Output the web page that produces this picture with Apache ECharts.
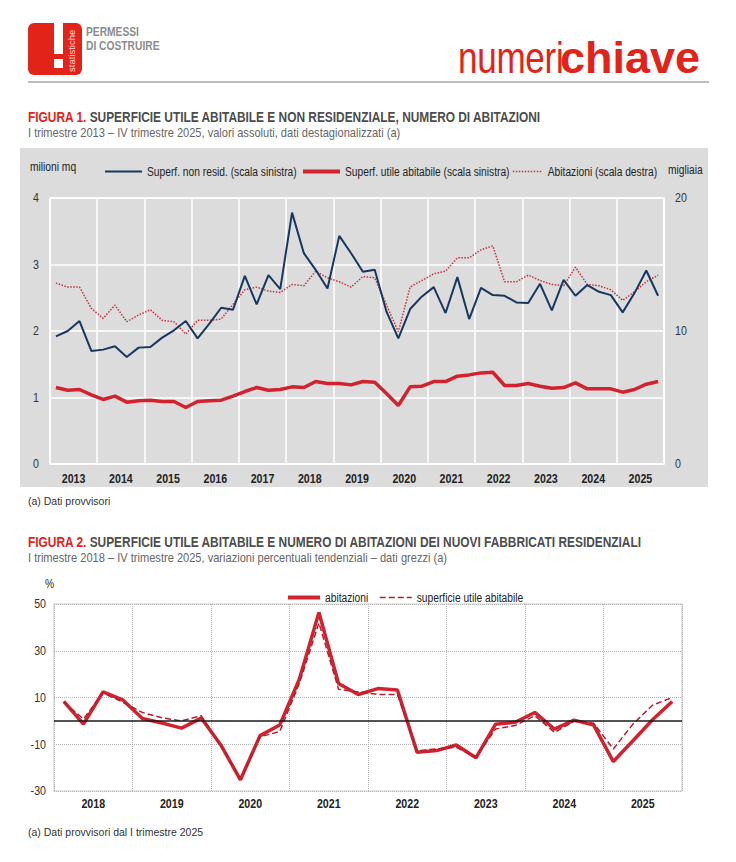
<!DOCTYPE html>
<html>
<head>
<meta charset="utf-8">
<script src="https://cdn.jsdelivr.net/npm/echarts@6/dist/echarts.min.js"></script>
<style>
  html,body{margin:0;padding:0;background:#fff;}
  body{width:736px;height:862px;position:relative;overflow:hidden;font-family:'Liberation Sans',Arial,sans-serif;}
  .abs{position:absolute;white-space:nowrap;}
  .nar{transform:scaleX(0.82);transform-origin:0 0;}
  .title{font-weight:bold;font-size:14.5px;color:#4d4d4d;line-height:16px;}
  .title span{color:#e2231a;}
  .sub{font-size:13.5px;color:#666;line-height:16px;}
  .note{font-size:10.5px;color:#333;line-height:12px;}
</style>
</head>
<body>
<!-- header -->
<div class="abs" style="left:28px;top:23px;width:54px;height:52px;background:#e2231a;border-radius:6px;overflow:hidden;">
  <div class="abs" style="left:26px;top:0px;width:9px;height:31px;background:#fff;"></div>
  <div class="abs" style="left:26px;top:36px;width:9px;height:9px;background:#fff;"></div>
  <div class="abs" style="left:38px;top:49px;transform-origin:0 0;transform:rotate(-90deg);font-size:9.5px;color:#fbdada;line-height:12px;">statistiche</div>
</div>
<div class="abs nar" style="left:86px;top:25px;font-weight:bold;font-size:12.5px;color:#8c8c8c;line-height:14px;">PERMESSI<br>DI COSTRUIRE</div>
<div class="abs" style="left:458px;top:33px;color:#e2231a;font-size:45px;line-height:50px;">
  <span style="display:inline-block;width:102px;"><span style="display:inline-block;transform:scaleX(0.78);transform-origin:0 0;font-weight:normal;letter-spacing:-0.4px;">numeri</span></span><span style="font-weight:bold;letter-spacing:0px;">chiave</span>
</div>
<div class="abs" style="left:28px;top:81px;width:681px;height:2px;background:#bdbdbd;"></div>

<div class="abs title nar" style="left:28px;top:109px;"><span>FIGURA 1.</span> SUPERFICIE UTILE ABITABILE E NON RESIDENZIALE, NUMERO DI ABITAZIONI</div>
<div class="abs sub nar" style="left:28px;top:125px;">I trimestre 2013 – IV trimestre 2025, valori assoluti, dati destagionalizzati (a)</div>
<div id="c1" class="abs" style="left:20px;top:148px;width:688px;height:339px;background:#dcdcdc;"></div>
<div class="abs note" style="left:28px;top:495px;">(a) Dati provvisori</div>

<div class="abs title nar" style="left:28px;top:534px;"><span>FIGURA 2.</span> SUPERFICIE UTILE ABITABILE E NUMERO DI ABITAZIONI DEI NUOVI FABBRICATI RESIDENZIALI</div>
<div class="abs sub nar" style="left:28px;top:550px;">I trimestre 2018 – IV trimestre 2025, variazioni percentuali tendenziali – dati grezzi (a)</div>
<div id="c2" class="abs" style="left:0px;top:570px;width:736px;height:240px;"></div>
<div class="abs note" style="left:28px;top:826px;">(a) Dati provvisori dal I trimestre 2025</div>

<script>
// ---------- DATA: Figura 1 ----------
const years1 = ['2013','2014','2015','2016','2017','2018','2019','2020','2021','2022','2023','2024','2025'];
const quarterNames = ['T1','T2','T3','T4'];
const quarters1 = [];
years1.forEach(y => quarterNames.forEach(q => quarters1.push(y + '-' + q)));
const superfNonResid = [1.92,2.00,2.15,1.70,1.72,1.77,1.61,1.75,1.76,1.90,2.01,2.15,1.89,2.11,2.35,2.32,
  2.83,2.40,2.84,2.63,3.78,3.17,2.92,2.64,3.43,3.17,2.89,2.92,2.29,1.89,2.33,2.52,2.66,2.27,2.81,2.18,
  2.65,2.54,2.53,2.43,2.42,2.71,2.31,2.77,2.53,2.69,2.59,2.54,2.28,2.57,2.91,2.53];
const superfUtile = [1.15,1.11,1.12,1.04,0.97,1.02,0.93,0.95,0.96,0.94,0.94,0.85,0.94,0.95,0.96,1.02,1.09,
  1.15,1.11,1.12,1.16,1.15,1.24,1.21,1.21,1.19,1.24,1.23,1.06,0.88,1.16,1.17,1.24,1.24,1.32,1.34,
  1.37,1.38,1.18,1.18,1.21,1.17,1.14,1.15,1.22,1.13,1.13,1.13,1.08,1.12,1.20,1.24];
const abitazioni1 = [13.6,13.3,13.3,11.7,10.95,11.95,10.7,11.2,11.6,10.8,10.7,9.77,10.8,10.8,10.9,12.0,13.1,
  13.3,13.0,12.9,13.5,13.4,14.5,14.0,13.7,13.3,14.1,14.0,11.95,9.95,13.3,13.8,14.3,14.5,15.5,15.5,
  16.1,16.4,13.7,13.7,14.2,13.8,13.5,13.4,14.8,13.5,13.4,13.1,12.3,12.95,13.7,14.2];
const leftTicks1 = {min:0, max:4, interval:1};
const rightTicks1 = {min:0, max:20, interval:10};

// ---------- DATA: Figura 2 ----------
const years2 = ['2018','2019','2020','2021','2022','2023','2024','2025'];
const quarters2 = [];
years2.forEach(y => quarterNames.forEach(q => quarters2.push(y + '-' + q)));
const varAbitazioni = [8.3,-1.4,12.4,9.0,1.0,-0.9,-3.1,1.2,-10.3,-25.2,-6.3,-1.8,17.8,46.4,16.0,11.3,
  13.8,13.2,-13.4,-12.7,-10.3,-15.8,-1.4,-0.6,3.6,-3.5,0.3,-1.8,-17.4,-8.5,0.5,8.3];
const varSuperficie = [8.0,0.8,12.0,8.0,3.6,1.3,0.0,2.2,-10.5,-25.0,-6.8,-4.6,16.0,41.9,13.5,12.4,
  11.3,11.3,-12.8,-12.0,-11.3,-15.5,-3.5,-2.0,2.2,-4.9,-0.2,-1.0,-12.0,-1.4,6.7,10.0];
const ticks2 = {min:-30, max:50, interval:20};

const FONT = "'Liberation Sans', Arial, sans-serif";
const names1 = ['Superf. non resid. (scala sinistra)','Superf. utile abitabile (scala sinistra)','Abitazioni (scala destra)'];
const names2 = ['abitazioni','superficie utile abitabile'];

// squeeze SVG text horizontally around its anchor (Arial-Narrow-like look)
function narrowText(chart, k){
  const svg = chart.getDom().querySelector('svg');
  if(!svg) return;
  svg.querySelectorAll('text').forEach(t => {
    let b;
    try { b = t.getBBox(); } catch(e) { return; }
    if(!b || b.width <= 0) return;
    const anchor = t.getAttribute('text-anchor') || getComputedStyle(t).textAnchor || 'start';
    let ax = b.x;
    if(anchor === 'middle') ax = b.x + b.width / 2;
    else if(anchor === 'end') ax = b.x + b.width;
    const tr = t.getAttribute('transform') || '';
    t.setAttribute('transform', (tr + ' translate(' + ax.toFixed(2) + ' 0) scale(' + k + ' 1) translate(' + (-ax).toFixed(2) + ' 0)').trim());
  });
}

const chart1 = echarts.init(document.getElementById('c1'), null, {renderer:'svg'});
const legendBase = {top:12, itemHeight:10, selectedMode:false, itemStyle:{opacity:0},
  textStyle:{fontFamily:FONT, fontSize:12.5, color:'#222'}};
chart1.setOption({
  animation:false,
  grid:{left:30, right:44, top:50, bottom:23, show:true, borderColor:'#fff', borderWidth:1.5, backgroundColor:'transparent'},
  legend:[
    Object.assign({}, legendBase, {left:79, itemWidth:37, lineStyle:{width:2}, data:[names1[0]]}),
    Object.assign({}, legendBase, {left:276, itemWidth:37, lineStyle:{width:4}, data:[names1[1]]}),
    Object.assign({}, legendBase, {left:487, itemWidth:30, lineStyle:{width:1.5}, data:[names1[2]]})
  ],
  graphic:[
    {type:'text', left:10, top:12, style:{text:'milioni mq', font:"12.5px " + FONT, fill:'#222'}},
    {type:'text', left:648, top:15, style:{text:'migliaia', font:"12.5px " + FONT, fill:'#222'}}
  ],
  xAxis:[
    {type:'category', data:years1, boundaryGap:true, axisLine:{show:false}, axisTick:{show:false},
     axisLabel:{interval:0, margin:8, fontFamily:FONT, fontWeight:'bold', fontSize:13, color:'#222'},
     splitLine:{show:true, interval:0, lineStyle:{color:'#fff', width:1.5}}},
    {type:'category', data:quarters1, boundaryGap:true, show:false}
  ],
  yAxis:[
    {type:'value', min:leftTicks1.min, max:leftTicks1.max, interval:leftTicks1.interval, axisLine:{show:false}, axisTick:{show:false},
     axisLabel:{margin:11, fontFamily:FONT, fontSize:13, color:'#333'}, splitLine:{lineStyle:{color:'#fff', width:1.5}}},
    {type:'value', position:'right', min:rightTicks1.min, max:rightTicks1.max, interval:rightTicks1.interval, axisLine:{show:false}, axisTick:{show:false},
     axisLabel:{margin:11, fontFamily:FONT, fontSize:13, color:'#333'}, splitLine:{show:false}}
  ],
  series:[
    {name:names1[0], type:'line', xAxisIndex:1, yAxisIndex:0, data:superfNonResid, symbol:'none', color:'#17375e', lineStyle:{width:2, color:'#17375e'}, z:3},
    {name:names1[1], type:'line', xAxisIndex:1, yAxisIndex:0, data:superfUtile, symbol:'none', color:'#d0232f', lineStyle:{width:3.5, color:'#d0232f'}, z:4},
    {name:names1[2], type:'line', xAxisIndex:1, yAxisIndex:1, data:abitazioni1, symbol:'none', color:'#c4303c', lineStyle:{width:1.5, type:'dotted', color:'#c4303c'}, z:2}
  ]
});

const chart2 = echarts.init(document.getElementById('c2'), null, {renderer:'svg'});
const legend2Base = {top:16, itemWidth:32, itemHeight:10, selectedMode:false, itemStyle:{opacity:0},
  textStyle:{fontFamily:FONT, fontSize:12.5, color:'#222'}};
chart2.setOption({
  animation:false,
  grid:{left:54, right:54, top:34, bottom:18, show:true, borderColor:'#cfcfcf', borderWidth:1.2},
  legend:[
    Object.assign({}, legend2Base, {left:281, lineStyle:{width:4}, data:[names2[0]]}),
    Object.assign({}, legend2Base, {left:374, lineStyle:{width:1.5}, data:[names2[1]]})
  ],
  graphic:[{type:'text', left:45, top:7, style:{text:'%', font:"12.5px " + FONT, fill:'#222'}}],
  xAxis:[
    {type:'category', data:years2, boundaryGap:true, axisLine:{show:false}, axisTick:{show:false},
     axisLabel:{interval:0, margin:6, fontFamily:FONT, fontWeight:'bold', fontSize:13, color:'#222'},
     splitLine:{show:true, interval:0, lineStyle:{color:'#b5b5b5', width:1, type:'dotted'}}},
    {type:'category', data:quarters2, boundaryGap:true, show:false}
  ],
  yAxis:[{type:'value', min:ticks2.min, max:ticks2.max, interval:ticks2.interval, axisLine:{show:false}, axisTick:{show:false},
    axisLabel:{margin:8, fontFamily:FONT, fontSize:13, color:'#333'}, splitLine:{lineStyle:{color:'#b5b5b5', width:1, type:'dotted'}}}],
  series:[
    {type:'line', xAxisIndex:1, data:[], silent:true, z:1,
     markLine:{silent:true, symbol:'none', label:{show:false}, lineStyle:{color:'#1a1a1a', width:1.5, type:'solid'}, data:[{yAxis:0}]}},
    {name:names2[0], type:'line', xAxisIndex:1, data:varAbitazioni, symbol:'none', color:'#cf2330', lineStyle:{width:3.5, color:'#cf2330'}, z:3},
    {name:names2[1], type:'line', xAxisIndex:1, data:varSuperficie, symbol:'none', color:'#b3202d', lineStyle:{width:1.5, type:'dashed', color:'#b3202d'}, z:4}
  ]
});

narrowText(chart1, 0.82);
narrowText(chart2, 0.82);
</script>
</body>
</html>
